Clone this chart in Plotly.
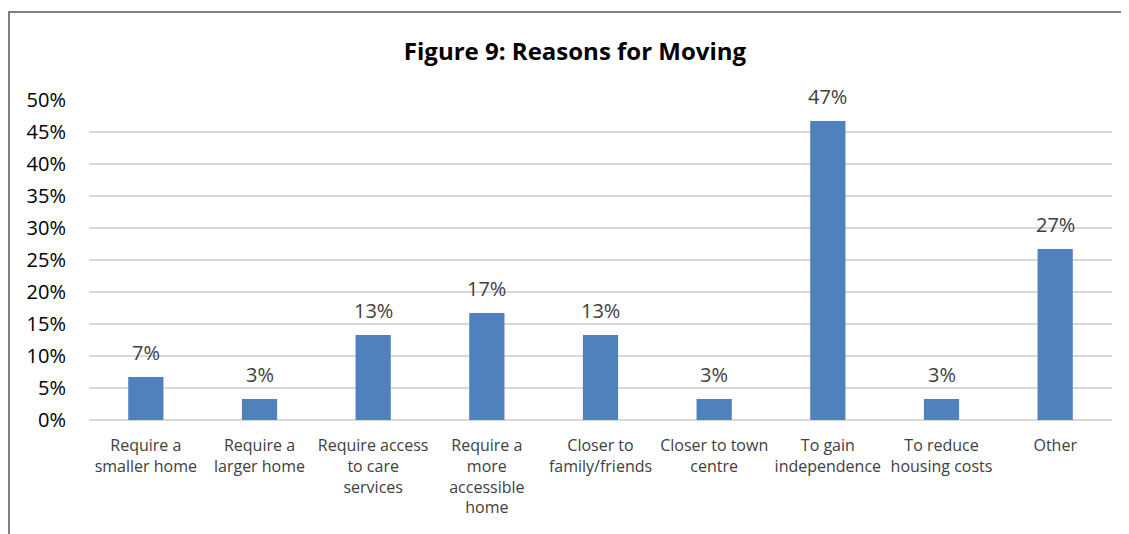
import plotly.graph_objects as go

categories = ["Require a<br>smaller home", "Require a<br>larger home", "Require access<br>to care<br>services",
              "Require a<br>more<br>accessible<br>home", "Closer to<br>family/friends", "Closer to town<br>centre",
              "To gain<br>independence", "To reduce<br>housing costs", "Other"]
values = [0.067, 0.033, 0.133, 0.167, 0.133, 0.033, 0.467, 0.033, 0.267]
labels = ["7%", "3%", "13%", "17%", "13%", "3%", "47%", "3%", "27%"]
tick_vals = [0, 0.05, 0.10, 0.15, 0.20, 0.25, 0.30, 0.35, 0.40, 0.45, 0.50]
tick_text = ["0%", "5%", "10%", "15%", "20%", "25%", "30%", "35%", "40%", "45%", "50%"]

# page body has an 8px margin, so the figure is drawn 8px in from the window edge
OFF = 8
W, H = 1129 - OFF, 534 - OFF
L, R, T, B = 89 - OFF, 17, 100 - OFF, 114
pw, ph = W - L - R, H - T - B

def px(x):
    return (x - OFF - L) / pw

def py(y):
    return (H - B - (y - OFF)) / ph

FONT = "Open Sans"

fig = go.Figure(go.Bar(
    x=categories, y=values,
    marker=dict(color="#4F81BD", line=dict(width=0)), width=0.31,
    hoverinfo="skip",
))

for c, v, t in zip(categories, values, labels):
    fig.add_annotation(x=c, y=v, text=t, showarrow=False, yanchor="bottom", yshift=9,
                       font=dict(size=20, color="#404040", family=FONT))

fig.update_layout(
    width=W, height=H,
    margin=dict(l=L, r=R, t=T, b=B),
    paper_bgcolor="white", plot_bgcolor="white",
    font=dict(family=FONT, color="#404040"),
    showlegend=False,
    title=dict(text="<b>Figure 9: Reasons for Moving</b>", x=(575 - OFF) / W, xanchor="center",
               y=1 - (52 - OFF) / H, yanchor="middle", xref="container", yref="container",
               font=dict(size=24, color="#000000", family=FONT)),
    xaxis=dict(showgrid=False, showline=False, ticks="", tickfont=dict(size=16, color="#404040"),
               tickangle=0, automargin=False, ticklabelstandoff=14),
    yaxis=dict(range=[0, 0.5], tickvals=tick_vals, ticktext=tick_text, showgrid=True,
               gridcolor="#D9D9D9", gridwidth=1.5, zeroline=True, zerolinecolor="#D9D9D9",
               zerolinewidth=1.5, tickfont=dict(size=20, color="#000000"), ticklabelstandoff=22,
               automargin=False),
    bargap=0.69,
    shapes=[
        dict(type="line", xref="paper", yref="paper", x0=px(9), x1=px(9), y0=py(12), y1=py(540),
             line=dict(color="#7F7F7F", width=2)),
        dict(type="line", xref="paper", yref="paper", x0=px(8), x1=px(1140), y0=py(12), y1=py(12),
             line=dict(color="#7F7F7F", width=2)),
    ],
)

fig.write_html("out.html")
